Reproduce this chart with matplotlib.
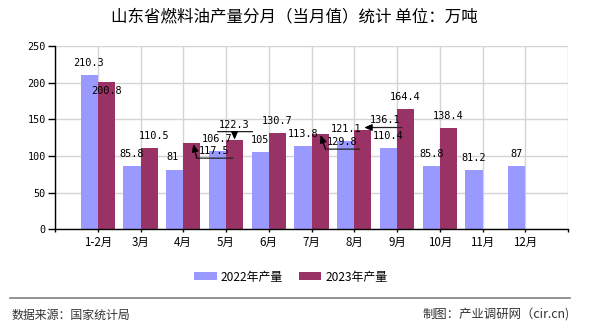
import matplotlib
matplotlib.use("Agg")
import matplotlib.pyplot as plt
import matplotlib.transforms as mtransforms
from matplotlib.patches import Patch

# ---------------- data ----------------
categories = ["1-2月", "3月", "4月", "5月", "6月", "7月", "8月", "9月", "10月", "11月", "12月"]
values_2022 = [210.3, 85.8, 81, 106.7, 105, 113.8, 121.1, 110.4, 85.8, 81.2, 87]
values_2023 = [200.8, 110.5, 117.5, 122.3, 130.7, 129.8, 136.1, 164.4, 138.4, None, None]
label_2022 = "2022年产量"
label_2023 = "2023年产量"
title = "山东省燃料油产量分月（当月值）统计 单位：万吨"
source_text = "数据来源：国家统计局"
maker_text = "制图：产业调研网（cir.cn)"
yticks = [0, 50, 100, 150, 200, 250]

# ---------------- style ----------------
C2022 = "#9999FF"
C2023 = "#993366"
GRID = "#d4d4d4"
CJK = ["Noto Sans CJK SC", "DejaVu Sans"]
MONO = ["DejaVu Sans Mono", "Liberation Mono"]
plt.rcParams["font.family"] = CJK

fig = plt.figure(figsize=(5.9, 3.3), dpi=100)
ax = fig.add_axes([55 / 590, 1 - 229.3 / 330, (568 - 55) / 590, (229.3 - 46) / 330])

n = len(categories)
xs = list(range(1, n + 1))
bw = 0.4

x22 = [x - bw / 2 for x in xs]
x23 = [x + bw / 2 for x in xs]
ax.bar(x22, values_2022, width=bw, color=C2022, zorder=2, linewidth=0)
v23x = [x for x, v in zip(x23, values_2023) if v is not None]
v23 = [v for v in values_2023 if v is not None]
ax.bar(v23x, v23, width=bw, color=C2023, zorder=2, linewidth=0)

ax.set_xlim(0, n + 1)
ax.set_ylim(0, 250)
ax.set_yticks(yticks)
ax.set_yticklabels([str(t) for t in yticks], family=MONO, fontsize=7.3)
ax.set_xticks(range(0, n + 2))
ax.set_xticklabels([""] + categories + [""], fontsize=8.3)
ax.grid(True, color=GRID, linewidth=1, zorder=0)
ax.set_axisbelow(True)
for s in ["top", "right"]:
    ax.spines[s].set_visible(False)
for s in ["left", "bottom"]:
    ax.spines[s].set_color("black")
    ax.spines[s].set_linewidth(1)
ax.tick_params(axis="y", length=5, width=1, pad=1.7, colors="black")
ax.tick_params(axis="x", length=2.5, width=1, pad=2.5, colors="black")


def off(dx, dy):
    return mtransforms.offset_copy(ax.transData, fig=fig, x=dx, y=dy, units="dots")


LBL = dict(family=MONO, fontsize=7.4, color="black", ha="center", va="center", zorder=5)

# default label offsets (pixels) and special cases
default_off = (0, 12)
special_22 = {0: (-1, 12), 2: (-2, 12.5)}
special_23 = {0: (0, -9), 1: (5, 12)}
# displaced labels with leader lines
leaders_23 = {
    2: dict(text=(22, -8), line=[(5, -15), (41, -15)], arrow=((5, -15), (1.5, -1))),
    3: dict(text=(0, 14.5), line=[(-17, 8), (18, 8)], arrow=((0, 8), (0, 0))),
    5: dict(text=(22, -7.5), line=[(5.5, -15), (39.5, -15)], arrow=((5.5, -15), (0.5, -1))),
    6: dict(text=(22, 9.5), line=[(10, 2), (39, 2)], arrow=((10, 2), (1.5, 2))),
}

for i, v in enumerate(values_2022):
    dx, dy = special_22.get(i, default_off)
    ax.text(x22[i], v, f"{v:g}", transform=off(dx, dy), **LBL)

for i, v in enumerate(values_2023):
    if v is None:
        continue
    if i in leaders_23:
        d = leaders_23[i]
        ax.text(x23[i], v, f"{v:g}", transform=off(*d["text"]), **LBL)
        (ax_, ay_), (bx_, by_) = d["line"]
        ax.annotate("", xy=(x23[i], v), xycoords=off(bx_, by_),
                    xytext=(x23[i], v), textcoords=off(ax_, ay_),
                    arrowprops=dict(arrowstyle="-", color="#222222", lw=0.9,
                                    shrinkA=0, shrinkB=0), zorder=5)
        (fx, fy), (tx, ty) = d["arrow"]
        ax.annotate("", xy=(x23[i], v), xycoords=off(tx, ty),
                    xytext=(x23[i], v), textcoords=off(fx, fy),
                    arrowprops=dict(arrowstyle="-|>,head_length=0.45,head_width=0.2",
                                    color="black", lw=0.9, shrinkA=0, shrinkB=0),
                    zorder=5)
    else:
        dx, dy = special_23.get(i, default_off)
        ax.text(x23[i], v, f"{v:g}", transform=off(dx, dy), **LBL)

# title
fig.text(294.5 / 590, 1 - 16.7 / 330, title, ha="center", va="center", fontsize=11.9, color="black")

# legend
handles = [Patch(facecolor=C2022, edgecolor="none", label=label_2022),
           Patch(facecolor=C2023, edgecolor="none", label=label_2023)]
fig.legend(handles=handles, loc="center", bbox_to_anchor=(291 / 590, 1 - 277 / 330), ncol=2,
           frameon=False, fontsize=8.6, handlelength=1.85, handleheight=0.65,
           handletextpad=0.35, columnspacing=1.35, borderpad=0, borderaxespad=0)

# footer separator and texts
fig.add_artist(plt.Line2D([10 / 590, 570 / 590], [1 - 298.3 / 330] * 2, color="#808080", lw=1.2))
fig.text(12 / 590, 1 - 315 / 330, source_text, ha="left", va="center", fontsize=8.6, color="#333333")
fig.text(570 / 590, 1 - 315 / 330, maker_text, ha="right", va="center", fontsize=8.9, color="#333333")

fig.savefig("out.png", dpi=100)
